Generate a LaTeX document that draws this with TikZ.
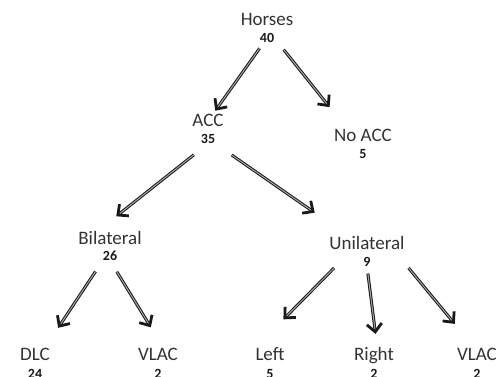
\documentclass[tikz,border=0pt]{standalone}
\usepackage{fontspec}
\setmainfont{Carlito}
\usetikzlibrary{positioning,arrows.meta}

\tikzset{
  cat/.style={inner sep=0pt, text height=12pt, text depth=0pt,
    font=\fontsize{19}{19}\selectfont, text=black!80},
  cnt/.style={inner sep=0pt, text height=9pt, text depth=0pt,
    font=\fontsize{14}{14}\selectfont\bfseries, text=black!90},
  arr/.style={draw=black!90, line width=1pt, double=black!35,
    double distance=1pt,
    -{Straight Barb[length=8pt,width=15pt,line width=2.8pt]}}
}

\begin{document}
\begin{tikzpicture}[x=1pt,y=-1pt]
  \clip (0,0) rectangle (496,377);

  % categories
  \node[cat] (horses) at (267,20) {Horses};
  \node[cat] (acc) at (208,121) {ACC};
  \node[cat] (noacc) at (363,136) {No ACC};
  \node[cat] (bil) at (110,238) {Bilateral};
  \node[cat] (uni) at (367,244) {Unilateral};
  \node[cat] (dlc) at (35,354) {DLC};
  \node[cat] (vlacL) at (158,354) {VLAC};
  \node[cat] (left) at (270,354) {Left};
  \node[cat] (right) at (374,354) {Right};
  \node[cat] (vlacR) at (477,354) {VLAC};

  % counts
  \node[cnt, below=7pt of horses] (n40) {40};
  \node[cnt, below=7pt of acc] (n35) {35};
  \node[cnt, below=7pt of noacc] (n5) {5};
  \node[cnt, below=7pt of bil] (n26) {26};
  \node[cnt, below=7pt of uni] (n9) {9};
  % bottom row, cut by the page edge
  \node[cnt, below=9pt of dlc] (n24) {24};
  \node[cnt, below=9pt of vlacL] (n2a) {2};
  \node[cnt, below=9pt of left] (n5b) {5};
  \node[cnt, below=9pt of right] (n2b) {2};
  \node[cnt, below=9pt of vlacR] (n2c) {2};

  % arrows
  \draw[arr, shorten <=7pt, shorten >=5pt] (n40) -- (acc);
  \draw[arr, shorten <=15pt, shorten >=29pt] (n40.east) -- (noacc.158);
  \draw[arr, shorten <=18pt, shorten >=25pt] (n35.south) -- (bil.155);
  \draw[arr, shorten <=20pt, shorten >=44pt] (n35.south east) -- (uni.159);
  \draw[arr, shorten <=13pt, shorten >=24pt] (n26.south west) -- (dlc.32);
  \draw[arr, shorten <=13pt, shorten >=24pt] (n26.south) -- (vlacL.49);
  \draw[arr, shorten <=25pt, shorten >=40pt] (uni.202) -- (left.north west);
  \draw[arr, shorten <=7pt, shorten >=14pt] (n9.south) -- (right.62);
  \draw[arr, shorten <=23pt, shorten >=31pt] (uni.-13) -- (vlacR.112);
\end{tikzpicture}
\end{document}
